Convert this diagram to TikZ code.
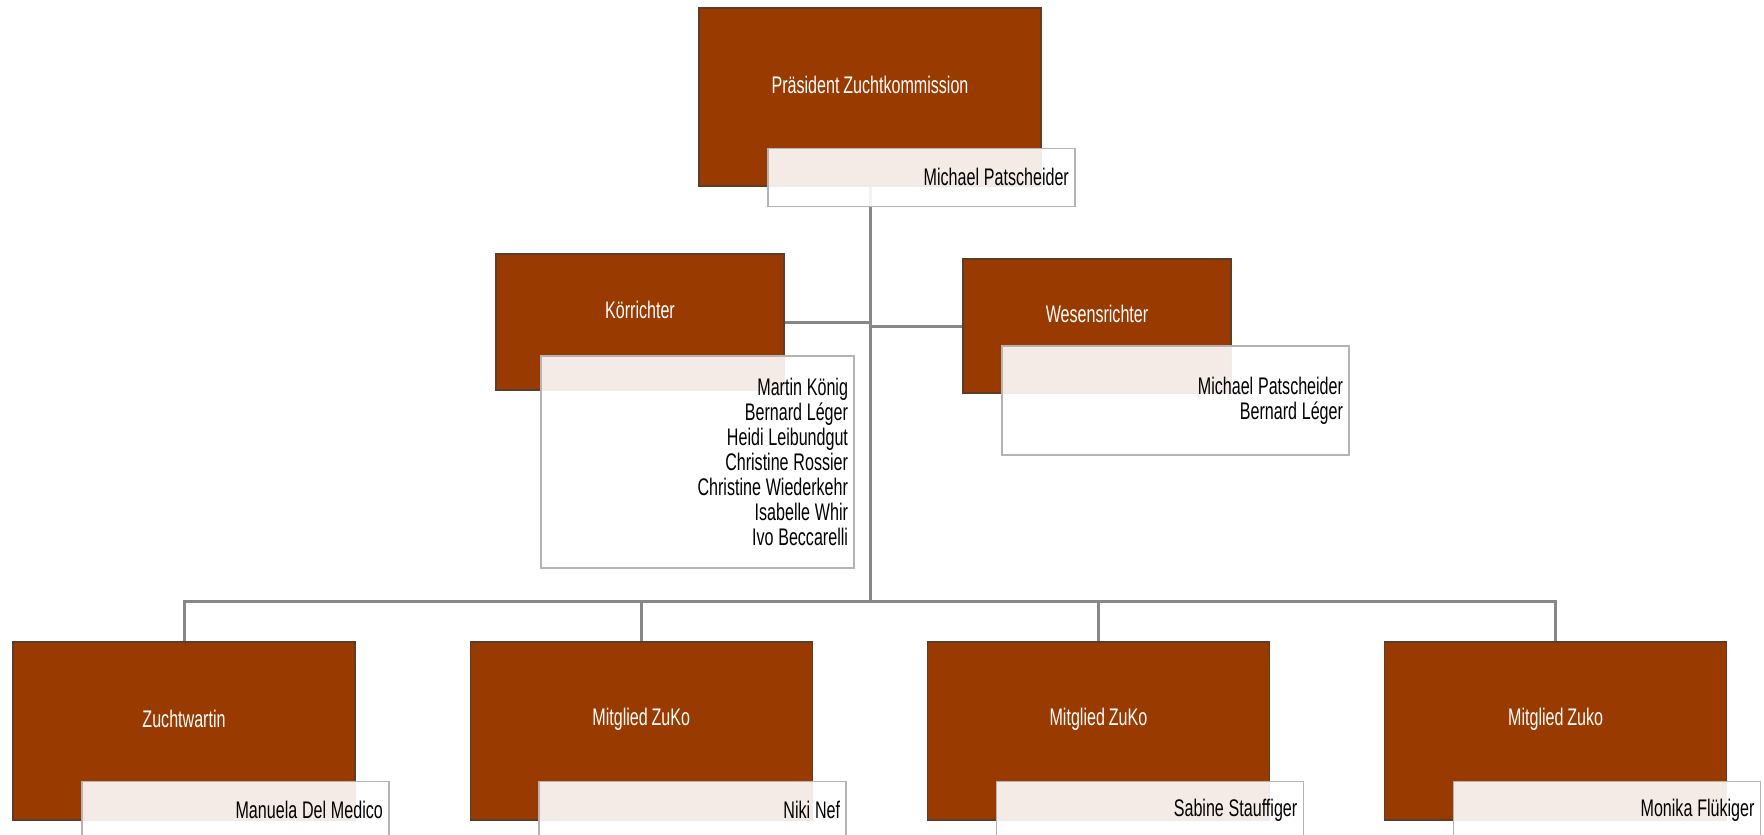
\documentclass[tikz,border=0pt]{standalone}
\usepackage{fontspec}
\setmainfont{Liberation Sans}[FakeStretch=0.67,WordSpace=0.85]
\usetikzlibrary{positioning}
\definecolor{postbrown}{HTML}{993A00}
\definecolor{postedge}{HTML}{5C3D28}
\definecolor{namegray}{HTML}{B4B4B4}
\definecolor{linkgray}{HTML}{878787}
\tikzstyle{post}=[rectangle,draw=postedge,line width=1.2pt,fill=postbrown,minimum width=342pt,minimum height=178pt,inner sep=0pt]
\tikzstyle{names}=[rectangle,draw=namegray,line width=1.5pt,fill=white,fill opacity=0.9,text opacity=1,align=right,inner xsep=6pt,inner ysep=0pt,minimum height=58pt,text width=295pt,execute at begin node={\spaceskip=4.8pt\relax}]
\tikzstyle{link}=[draw=linkgray,line width=3pt]
\tikzstyle{postlabel}=[text=white,yshift=12pt]

\begin{document}
\begin{tikzpicture}[x=1pt,y=-1pt,font=\fontsize{24pt}{25pt}\selectfont]
    \useasboundingbox (0,0) rectangle (1764,835);
    % posts
    \node [post] (pres) at (870,97)
        [label={[postlabel]center:Präsident Zuchtkommission}] {};
    \node [post,minimum width=288pt,minimum height=136pt] (kor) at (640,322)
        [label={[postlabel]center:Körrichter}] {};
    \node [post,minimum width=268pt,minimum height=134pt] (wes) at (1097,326)
        [label={[postlabel]center:Wesensrichter}] {};
    \node [post] (zw) at (184,731)      [label={[postlabel]center:Zuchtwartin}] {};
    \node [post] (m1) [right=114pt of zw] [label={[postlabel]center:Mitglied ZuKo}] {};
    \node [post] (m2) [right=114pt of m1] [label={[postlabel]center:Mitglied ZuKo}] {};
    \node [post] (m3) [right=114pt of m2] [label={[postlabel]center:Mitglied Zuko}] {};

    % connectors
    \coordinate (bus) at (870,601);
    \draw [link] (pres.south) -- (bus);
    \draw [link] (kor.east) -- (kor.east -| bus);
    \draw [link] (wes.west) -- (wes.west -| bus);
    \draw [link] (zw.north) |- (bus) -| (m3.north);
    \draw [link] (bus) -| (m1.north);
    \draw [link] (bus) -| (m2.north);

    % names
    \node [names,anchor=north east] (presn) at ([xshift=34pt,yshift=39pt]pres.south east) {Michael Patscheider};
    \node [names,text width=301pt,minimum height=212pt] (korn) at (697.5,462)
        {Martin König\\Bernard Léger\\Heidi Leibundgut\\Christine Rossier\\Christine Wiederkehr\\Isabelle Whir\\Ivo Beccarelli};
    \node [names,text width=335pt,minimum height=109pt] (wesn) at (1175.5,400.5)
        {Michael Patscheider\\Bernard Léger};
    \node [names,anchor=north east] (zwn) at ([xshift=34pt,yshift=40pt]zw.south east) {Manuela Del Medico};
    \node [names,anchor=north east] (m1n) at ([xshift=34pt,yshift=40pt]m1.south east) {Niki Nef};
    \node [names,anchor=north east] (m2n) at ([xshift=34pt,yshift=40pt]m2.south east) {Sabine Stauffiger};
    \node [names,anchor=north east] (m3n) at ([xshift=34pt,yshift=40pt]m3.south east) {Monika Flükiger};
\end{tikzpicture}
\end{document}
